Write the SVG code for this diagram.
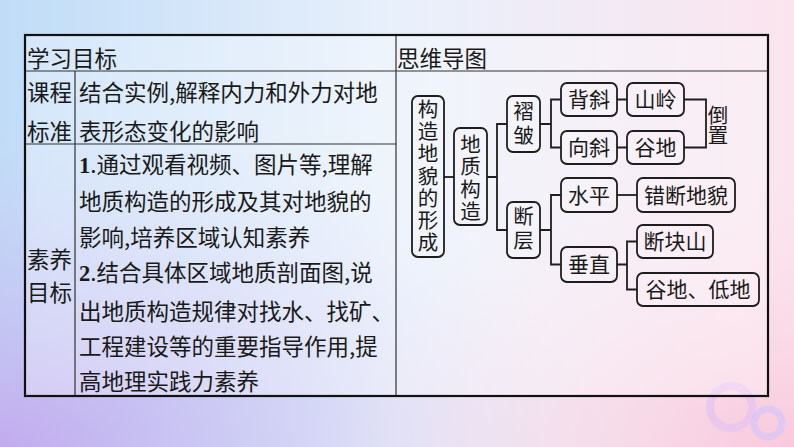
<svg xmlns="http://www.w3.org/2000/svg" width="794" height="447" viewBox="0 0 794 447">
<defs>
<linearGradient id="bgH" x1="0" y1="0" x2="1" y2="0">
<stop offset="0" stop-color="#c0dcf7"/>
<stop offset="0.5" stop-color="#e8f0fb"/>
<stop offset="1" stop-color="#fbe4ee"/>
</linearGradient>
<radialGradient id="bgBL" cx="0" cy="1" r="0.75">
<stop offset="0" stop-color="#c2a8ee" stop-opacity="0.95"/>
<stop offset="0.6" stop-color="#c8c0f2" stop-opacity="0.4"/>
<stop offset="1" stop-color="#d0d8f6" stop-opacity="0"/>
</radialGradient>
<radialGradient id="bgBR" cx="1" cy="1" r="0.6">
<stop offset="0" stop-color="#f8c6da" stop-opacity="0.9"/>
<stop offset="1" stop-color="#fbe0ea" stop-opacity="0"/>
</radialGradient>
<style>
.t{font-family:"Noto Sans CJK SC","Noto Sans",sans-serif;font-size:22.5px;fill:#1a1a1a}
.m{font-family:"Noto Sans CJK SC","Noto Sans",sans-serif;font-size:21px;fill:#1a1a1a}
.v{font-family:"Noto Sans CJK SC","Noto Sans",sans-serif;font-size:20.5px;fill:#1a1a1a}
.b{font-family:"Liberation Serif",serif;font-weight:bold}
.box{fill:#ffffff;fill-opacity:0.15;stroke:#1e1e1e;stroke-width:1.8}
.ln{fill:none;stroke:#1e1e1e;stroke-width:1.8}
.grid{stroke:#333;stroke-width:1.2;fill:none}
</style>
</defs>
<rect width="794" height="447" fill="url(#bgH)"/>
<rect width="794" height="447" fill="url(#bgBL)"/>
<rect width="794" height="447" fill="url(#bgBR)"/>
<g id="rings" fill="none">
<circle cx="731" cy="407" r="21" stroke="#e6c2f2" stroke-width="8" opacity="0.7"/>
<circle cx="768" cy="423" r="14" stroke="#d8c6f6" stroke-width="7" opacity="0.75"/>
</g>
<g id="table">
<rect x="25" y="35" width="743" height="361" fill="#ffffff" fill-opacity="0.3"/>
<path class="grid" d="M25,71 H768 M25,144 H396 M75,71 V396 M396,35 V396"/>
<rect x="25" y="35" width="743" height="361" fill="none" stroke="#111" stroke-width="2.2"/>
<text class="t" x="27" y="67">学习目标</text>
<text class="t" x="397" y="67">思维导图</text>
<text class="t" x="27" y="101">课程</text>
<text class="t" x="27" y="140">标准</text>
<text class="t" x="79" y="101">结合实例,解释内力和外力对地</text>
<text class="t" x="79" y="140">表形态变化的影响</text>
<text class="t" x="27" y="268">素养</text>
<text class="t" x="27" y="301">目标</text>
<text class="t" x="79" y="173"><tspan class="b">1</tspan>.通过观看视频、图片等,理解</text>
<text class="t" x="79" y="210">地质构造的形成及其对地貌的</text>
<text class="t" x="79" y="246">影响,培养区域认知素养</text>
<text class="t" x="79" y="281"><tspan class="b">2</tspan>.结合具体区域地质剖面图,说</text>
<text class="t" x="79" y="320">出地质构造规律对找水、找矿、</text>
<text class="t" x="79" y="355">工程建设等的重要指导作用,提</text>
<text class="t" x="79" y="390">高地理实践力素养</text>
</g>
<g id="connectors">
<path class="ln" d="M444,177 H454"/>
<path class="ln" d="M487,177 H497 M507,124 H497 V230 H507"/>
<path class="ln" d="M540,124 H551 M561,99.5 H551 V147.5 H561"/>
<path class="ln" d="M617,99.5 H627 M617,147.5 H627"/>
<path class="ln" d="M684,99.5 H706 V147.5 H684"/>
<path class="ln" d="M540,230 H551 M561,195 H551 V264.5 H561"/>
<path class="ln" d="M617,195 H637"/>
<path class="ln" d="M617,264.5 H627 M637,241.5 H627 V289.5 H637"/>
</g>
<g id="n-root"><rect class="box" x="412" y="96" width="32" height="161" rx="6"/>
<text class="v" text-anchor="middle"><tspan x="428" y="117">构</tspan><tspan x="428" dy="22.2">造</tspan><tspan x="428" dy="22.2">地</tspan><tspan x="428" dy="22.2">貌</tspan><tspan x="428" dy="22.2">的</tspan><tspan x="428" dy="22.2">形</tspan><tspan x="428" dy="22.2">成</tspan></text></g>
<g id="n-dzgz"><rect class="box" x="454" y="128" width="33" height="97" rx="6"/>
<text class="v" text-anchor="middle"><tspan x="470.5" y="152">地</tspan><tspan x="470.5" dy="22.3">质</tspan><tspan x="470.5" dy="22.3">构</tspan><tspan x="470.5" dy="22.3">造</tspan></text></g>
<g id="n-zz"><rect class="box" x="507" y="96" width="33" height="56" rx="6"/>
<text class="v" text-anchor="middle"><tspan x="523.5" y="119">褶</tspan><tspan x="523.5" dy="24">皱</tspan></text></g>
<g id="n-dc"><rect class="box" x="507" y="202" width="33" height="56" rx="6"/>
<text class="v" text-anchor="middle"><tspan x="523.5" y="224">断</tspan><tspan x="523.5" dy="24">层</tspan></text></g>
<g id="n-bx"><rect class="box" x="561" y="83" width="56" height="33" rx="6"/><text class="m" x="589" y="107" text-anchor="middle">背斜</text></g>
<g id="n-sl"><rect class="box" x="627" y="83" width="57" height="33" rx="6"/><text class="m" x="655.5" y="107" text-anchor="middle">山岭</text></g>
<g id="n-xx"><rect class="box" x="561" y="131" width="56" height="33" rx="6"/><text class="m" x="589" y="155" text-anchor="middle">向斜</text></g>
<g id="n-gd"><rect class="box" x="627" y="131" width="57" height="33" rx="6"/><text class="m" x="655.5" y="155" text-anchor="middle">谷地</text></g>
<g id="n-dz"><text class="v" text-anchor="middle"><tspan x="718" y="123">倒</tspan><tspan x="718" dy="19.5">置</tspan></text></g>
<g id="n-sp"><rect class="box" x="561" y="178" width="56" height="34" rx="6"/><text class="m" x="589" y="202.5" text-anchor="middle">水平</text></g>
<g id="n-cddm"><rect class="box" x="637" y="178" width="98" height="34" rx="6"/><text class="m" x="686" y="202.5" text-anchor="middle">错断地貌</text></g>
<g id="n-cz"><rect class="box" x="561" y="247" width="56" height="35" rx="6"/><text class="m" x="589" y="272" text-anchor="middle">垂直</text></g>
<g id="n-dks"><rect class="box" x="637" y="225" width="76" height="33" rx="6"/><text class="m" x="675" y="249" text-anchor="middle">断块山</text></g>
<g id="n-gddd"><rect class="box" x="637" y="273" width="122" height="33" rx="6"/><text class="m" x="698" y="297" text-anchor="middle">谷地、低地</text></g>
</svg>
